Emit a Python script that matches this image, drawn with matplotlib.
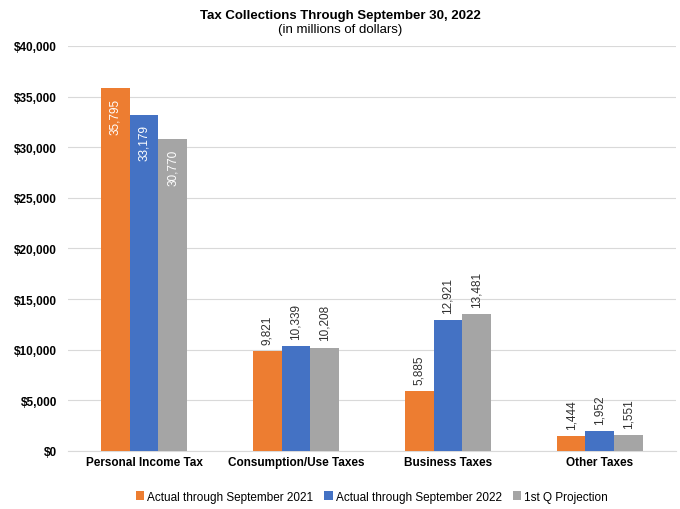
import numpy as np
import matplotlib.pyplot as plt
from matplotlib.ticker import FuncFormatter, MultipleLocator

plt.rcParams['font.family'] = ['Liberation Sans', 'DejaVu Sans']

categories = ['Personal Income Tax', 'Consumption/Use Taxes', 'Business Taxes', 'Other Taxes']
series_names = ['Actual through September 2021', 'Actual through September 2022', '1st Q Projection']
actual_2021 = [35795, 9821, 5885, 1444]
actual_2022 = [33179, 10339, 12921, 1952]
projection = [30770, 10208, 13481, 1551]
colors = ['#ED7D31', '#4472C4', '#A5A5A5']

fig = plt.figure(figsize=(6.8, 5.1), dpi=100)
ax = fig.add_axes([0.1, 0.114, 0.894, 0.794])

x = np.arange(len(categories))
width = 0.19
all_series = [actual_2021, actual_2022, projection]
for i, (vals, name, col) in enumerate(zip(all_series, series_names, colors)):
    pos = x + (i - 1) * width
    ax.bar(pos, vals, width, color=col, label=name, zorder=3)
    for j, (p, v) in enumerate(zip(pos, vals)):
        if j == 0:
            # tall bars: label inside, at the top
            ax.text(p, v - 900, f'{v:,}', rotation=90, ha='center', va='top',
                    color='white', fontsize=8.5, zorder=4)
        else:
            ax.text(p, v + 700, f'{v:,}', rotation=90, ha='center', va='bottom',
                    color='#303030', fontsize=8.5, zorder=4)

ax.set_xlim(-0.5, len(categories) - 0.5)
ax.set_ylim(0, 40000)
ax.yaxis.set_major_locator(MultipleLocator(5000))
ax.yaxis.set_major_formatter(FuncFormatter(lambda v, _: f'${v:,.0f}'))
ax.set_xticks(x)
ax.set_xticklabels(categories, fontweight='bold', fontsize=8.5)
for lab in ax.get_yticklabels():
    lab.set_fontweight('bold')
    lab.set_fontsize(8.5)
ax.tick_params(length=0)
ax.tick_params(axis='y', pad=8)
ax.grid(axis='y', color='#D9D9D9', linewidth=0.8, zorder=0)
for s in ['top', 'right', 'left']:
    ax.spines[s].set_visible(False)
ax.spines['bottom'].set_color('#D9D9D9')

fig.text(0.5, 0.962, 'Tax Collections Through September 30, 2022', ha='center',
         fontweight='bold', fontsize=9.5)
fig.text(0.5, 0.936, '(in millions of dollars)', ha='center', fontsize=9.5)

ax.legend(loc='center', bbox_to_anchor=(0.5, -0.113), ncol=3, frameon=False,
          fontsize=8.5, handlelength=0.7, handleheight=0.7, handletextpad=0.3,
          columnspacing=0.9)

fig.savefig('out.png', dpi=100)
